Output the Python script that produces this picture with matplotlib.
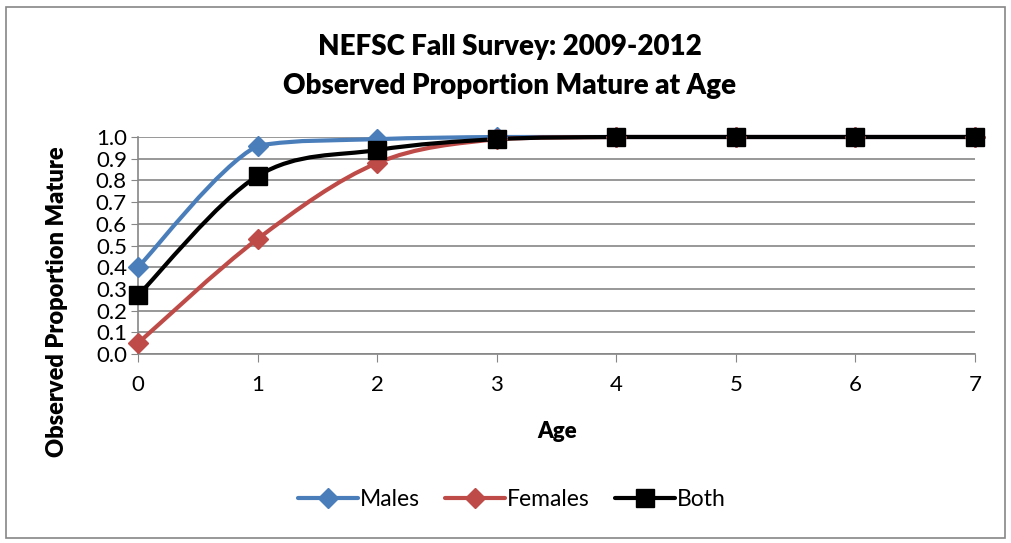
import numpy as np
import matplotlib
matplotlib.use("Agg")
import matplotlib.pyplot as plt
from matplotlib.path import Path
from matplotlib.patches import PathPatch, Rectangle

# data
ages = [0, 1, 2, 3, 4, 5, 6, 7]
males = [0.40, 0.96, 0.99, 1.00, 1.00, 1.00, 1.00, 1.00]
females = [0.05, 0.53, 0.88, 0.99, 1.00, 1.00, 1.00, 1.00]
both = [0.27, 0.82, 0.94, 0.99, 1.00, 1.00, 1.00, 1.00]

y_ticks = [0.0, 0.1, 0.2, 0.3, 0.4, 0.5, 0.6, 0.7, 0.8, 0.9, 1.0]

plt.rcParams['font.family'] = ['Lato', 'DejaVu Sans']

fig = plt.figure(figsize=(10.11, 5.43), dpi=100)
ax = fig.add_axes([138/1011, 1 - 354/543, (975-138)/1011, (354-137)/543])

# outer chart border like excel
fig.patches.append(Rectangle((6/1011, 5/543), 1 - 12/1011, 1 - 12/543, transform=fig.transFigure,
                             fill=False, edgecolor='#868686', linewidth=1.2))


def smooth_path(x, y):
    # excel-style smoothed line: cubic bezier segments, control points kept inside the segment range
    pts = np.column_stack([x, y]).astype(float)
    n = len(pts)
    verts = [pts[0]]
    codes = [Path.MOVETO]
    for i in range(n - 1):
        p0 = pts[i - 1] if i > 0 else pts[i]
        p1 = pts[i]
        p2 = pts[i + 1]
        p3 = pts[i + 2] if i + 2 < n else pts[i + 1]
        c1 = p1 + (p2 - p0) / 6
        c2 = p2 - (p3 - p1) / 6
        lo, hi = min(p1[1], p2[1]), max(p1[1], p2[1])
        c1[1] = np.clip(c1[1], lo, hi)
        c2[1] = np.clip(c2[1], lo, hi)
        verts += [c1, c2, p2]
        codes += [Path.CURVE4] * 3
    return Path(verts, codes)


series = [
    ('Males', males, '#4A7EBB', 'D', 10),
    ('Females', females, '#BE4B48', 'D', 10),
    ('Both', both, 'black', 's', 13),
]

handles = []
for name, vals, color, marker, ms in series:
    patch = PathPatch(smooth_path(ages, vals), facecolor='none', edgecolor=color,
                      linewidth=3, capstyle='round', joinstyle='round', zorder=3, clip_on=False)
    ax.add_patch(patch)
    ax.plot(ages, vals, linestyle='none', marker=marker, markersize=ms, color=color,
            zorder=4, clip_on=False)
    h, = ax.plot([], [], color=color, linewidth=3, marker=marker, markersize=ms,
                 solid_capstyle='round')
    handles.append(h)

ax.set_xlim(0, 7)
ax.set_ylim(0, 1)
ax.set_xticks(ages)
ax.set_yticks(y_ticks)
ax.set_yticklabels([f'{v:.1f}' for v in y_ticks])
ax.yaxis.grid(True, color='#868686', linewidth=1.2)
ax.set_axisbelow(True)
for side in ['top', 'right']:
    ax.spines[side].set_visible(False)
ax.spines['left'].set_color('#868686')
ax.spines['bottom'].set_color('#868686')
ax.spines['left'].set_linewidth(1.2)
ax.spines['bottom'].set_linewidth(1.2)
ax.tick_params(axis='y', direction='out', length=5, color='#868686', labelsize=16, pad=3)
ax.tick_params(axis='x', direction='out', length=6, color='#868686', labelsize=16, pad=9)

fig.text(510/1011, 1 - 47/543, 'NEFSC Fall Survey: 2009-2012', ha='center', va='center',
         fontsize=20, fontweight='heavy')
fig.text(510/1011, 1 - 86/543, 'Observed Proportion Mature at Age', ha='center', va='center',
         fontsize=20, fontweight='heavy')
fig.text(557/1011, 1 - 432/543, 'Age', ha='center', va='center', fontsize=16, fontweight='heavy')
fig.text(57/1011, 1 - 302/543, 'Observed Proportion Mature', ha='center', va='center',
         rotation=90, fontsize=17, fontweight='heavy')

fig.legend(handles, [s[0] for s in series], loc='center', bbox_to_anchor=(512/1011, 1 - 500/543),
           ncol=3, frameon=False, fontsize=16.5, handlelength=2.6, handletextpad=0.1,
           columnspacing=1.1, numpoints=1)

fig.savefig('out.png', dpi=100)
